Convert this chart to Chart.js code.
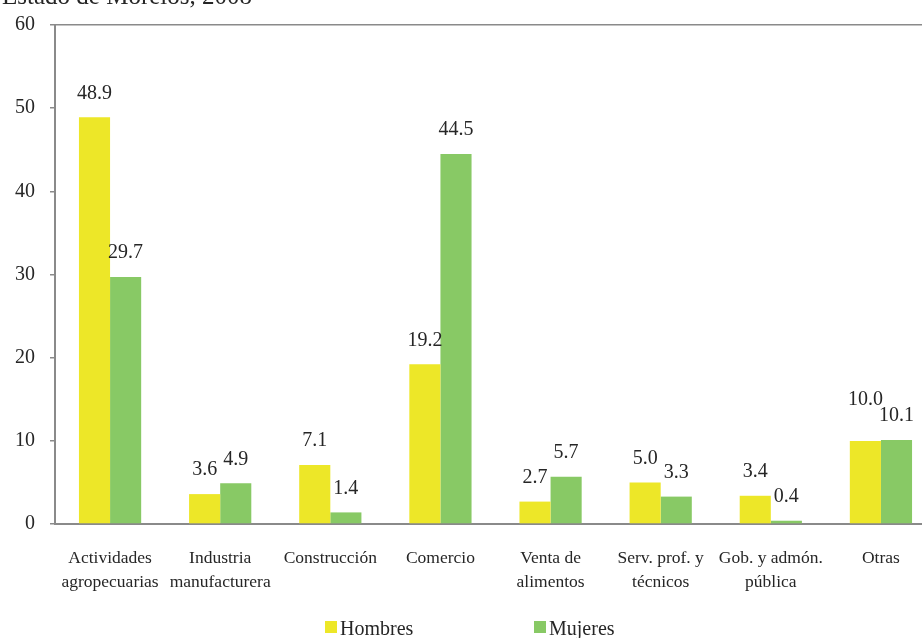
<!DOCTYPE html>
<html lang="es">
<head>
<meta charset="UTF-8">
<title>Estado de Morelos, 2008</title>
<script src="https://cdn.jsdelivr.net/npm/chart.js"></script>
<style>
    body {
        margin: 0;
        overflow: hidden;
        background: #fff;
    }
    .wrap {
        position: absolute;
        left: 0;
        top: 0;
        width: 936px;
        height: 638px;
    }
</style>
</head>
<body>
<div class="wrap"><canvas id="chart"></canvas></div>
<script>
    const categories = [
        ['Actividades', 'agropecuarias'],
        ['Industria', 'manufacturera'],
        'Construcción',
        'Comercio',
        ['Venta de', 'alimentos'],
        ['Serv. prof. y', 'técnicos'],
        ['Gob. y admón.', 'pública'],
        'Otras'
    ];
    const hombres = [48.9, 3.6, 7.1, 19.2, 2.7, 5.0, 3.4, 10.0];
    const mujeres = [29.7, 4.9, 1.4, 44.5, 5.7, 3.3, 0.4, 10.1];
    const yTicks = [0, 10, 20, 30, 40, 50, 60];
    const titleText = 'Estado de Morelos, 2008';

    const yellow = '#ede728';
    const green = '#88c965';
    const axisGray = '#8a8a8a';
    const textColor = '#262626';
    const serif = "'Liberation Serif', 'DejaVu Serif', serif";

    // values above each bar; the first label of a pair is pushed up when the two collide
    const valueLabels = {
        id: 'valueLabels',
        afterDatasetsDraw(chart) {
            const ctx = chart.ctx;
            ctx.save();
            ctx.font = '20px ' + serif;
            ctx.fillStyle = textColor;
            ctx.textAlign = 'center';
            ctx.textBaseline = 'middle';
            const m0 = chart.getDatasetMeta(0).data;
            const m1 = chart.getDatasetMeta(1).data;
            m0.forEach((b0, j) => {
                const b1 = m1[j];
                const t0 = hombres[j].toFixed(1);
                const t1 = mujeres[j].toFixed(1);
                let y0 = b0.y - 24;
                const y1 = b1.y - 24;
                const w0 = ctx.measureText(t0).width;
                const w1 = ctx.measureText(t1).width;
                const overlapX = (b0.x + w0 / 2) > (b1.x - w1 / 2);
                if (overlapX && Math.abs(y0 - y1) < 16) {
                    y0 = Math.min(y0, y1 - 16);
                }
                ctx.fillText(t0, b0.x, y0);
                ctx.fillText(t1, b1.x, y1);
            });
            ctx.restore();
        }
    };

    // clipped heading + legend at the bottom
    const extras = {
        id: 'extras',
        afterDraw(chart) {
            const ctx = chart.ctx;
            ctx.save();
            ctx.font = '25px ' + serif;
            ctx.fillStyle = textColor;
            ctx.textAlign = 'right';
            ctx.textBaseline = 'alphabetic';
            ctx.fillText(titleText, 252, 4);

            ctx.font = '20px ' + serif;
            ctx.textAlign = 'left';
            const starts = [325, 534];
            chart.data.datasets.forEach((ds, i) => {
                ctx.fillStyle = ds.backgroundColor;
                ctx.fillRect(starts[i], 621, 12, 12);
                ctx.fillStyle = textColor;
                ctx.fillText(ds.label, starts[i] + 15, 635);
            });
            ctx.restore();
        }
    };

    new Chart(document.getElementById('chart'), {
        type: 'bar',
        data: {
            labels: categories,
            datasets: [
                { label: 'Hombres', data: hombres, backgroundColor: yellow },
                { label: 'Mujeres', data: mujeres, backgroundColor: green }
            ]
        },
        options: {
            responsive: true,
            maintainAspectRatio: false,
            animation: false,
            categoryPercentage: 0.565,
            barPercentage: 1.0,
            layout: {
                padding: { left: 0, top: 9, right: 0, bottom: 22 }
            },
            plugins: {
                legend: { display: false },
                tooltip: { enabled: false }
            },
            scales: {
                x: {
                    grid: { display: false, drawTicks: false },
                    border: { display: true, color: axisGray, width: 2 },
                    ticks: {
                        color: textColor,
                        padding: 22,
                        maxRotation: 0,
                        autoSkip: false,
                        font: { family: serif, size: 17.5, lineHeight: 1.37 }
                    }
                },
                y: {
                    min: 0,
                    max: 60,
                    afterBuildTicks(axis) {
                        axis.ticks = yTicks.map(v => ({ value: v }));
                    },
                    grid: {
                        color: c => (c.tick && c.tick.value === 60) ? axisGray : 'transparent',
                        lineWidth: 1.5,
                        tickColor: axisGray,
                        tickLength: 5,
                        drawTicks: true
                    },
                    border: { display: true, color: axisGray, width: 2 },
                    ticks: {
                        color: textColor,
                        padding: 15,
                        font: { family: serif, size: 20, lineHeight: 1.0 }
                    }
                }
            }
        },
        plugins: [valueLabels, extras]
    });
</script>
</body>
</html>
